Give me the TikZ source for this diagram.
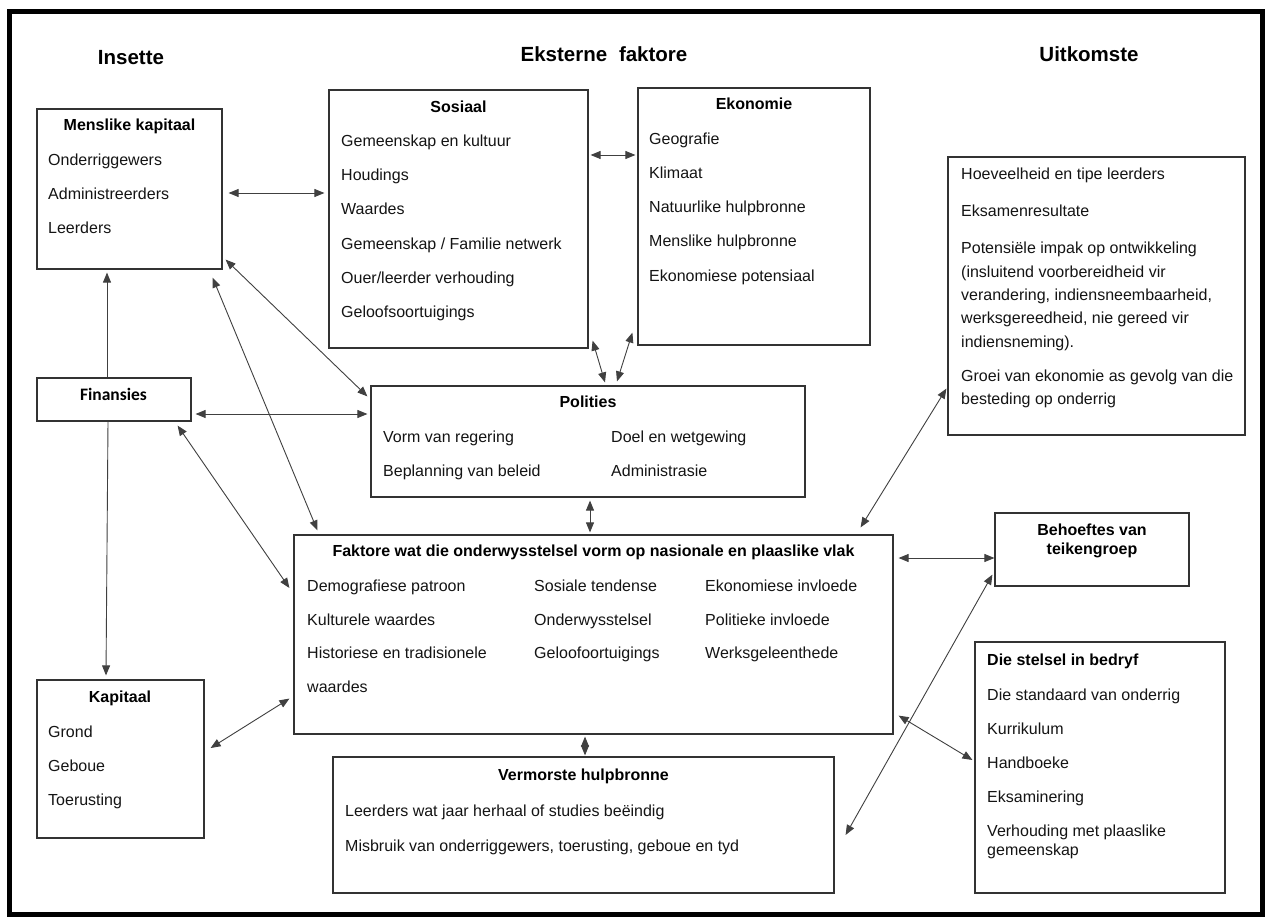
\documentclass[tikz,border=0pt]{standalone}
\usepackage{fontspec}
\setmainfont{Liberation Sans}
\newfontfamily\calibri{Carlito}
\usetikzlibrary{arrows.meta}

\begin{document}
\begin{tikzpicture}[x=1pt,y=-1pt,
  box/.style={draw=black!80, line width=1.2pt, inner sep=0pt},
  item/.style={anchor=base west, inner sep=0pt, font=\fontsize{16}{19}\selectfont, text=black!92},
  head/.style={anchor=base, inner sep=0pt, font=\fontsize{16}{19}\selectfont\bfseries},
  headl/.style={anchor=base west, inner sep=0pt, font=\fontsize{16}{19}\selectfont\bfseries},
  big/.style={anchor=base, inner sep=0pt, font=\fontsize{20.5}{24}\selectfont\bfseries},
  tip/.tip={Triangle[length=10pt,width=8pt]},
  link/.style={draw=black!75, line width=0.9pt, tip-tip},
  uplink/.style={draw=black!75, line width=0.9pt, -tip},
]
\useasboundingbox (0,0) rectangle (1265,917);
\fill[white] (0,0) rectangle (1265,917);
% outer frame
\draw[line width=5pt, black] (9.5,11.5) rectangle (1262,914);

% column headings
\node[big] (hin) at (131,65) {Insette};
\node[big] (hek) at (604,62) {Eksterne\hspace{0.3em} faktore};
\node[big] (huit) at (1089,62) {Uitkomste};

% boxes
\node[box, minimum width=185, minimum height=160] (mensl) at (129.5,189) {};
\node[box, minimum width=259, minimum height=258] (sos) at (458.5,219) {};
\node[box, minimum width=232, minimum height=257] (ekon) at (754,216.5) {};
\node[box, minimum width=297, minimum height=278] (uitk) at (1096.5,296) {};
\node[box, minimum width=154, minimum height=43] (fin) at (114,399.5) {};
\node[box, minimum width=434, minimum height=111] (pol) at (588,441.5) {};
\node[box, minimum width=599, minimum height=199] (fak) at (593.5,634.5) {};
\node[box, minimum width=194, minimum height=73] (beh) at (1092,549.5) {};
\node[box, minimum width=167, minimum height=158] (kap) at (120.5,759) {};
\node[box, minimum width=501, minimum height=136] (verm) at (583.5,825) {};
\node[box, minimum width=250, minimum height=251] (stel) at (1100,767.5) {};

% Menslike kapitaal
\node[head] (tmensl) at (129.5,131) {Menslike kapitaal};
\foreach \t [count=\i from 0] in {Onderriggewers, Administreerders, Leerders}
  \node[item] (mk\i) at (48,{166+34*\i}) {\t};

% Sosiaal
\node[head] (tsos) at (458.5,113) {Sosiaal};
\foreach \t [count=\i from 0] in {Gemeenskap en kultuur, Houdings, Waardes,
    Gemeenskap / Familie netwerk, Ouer/leerder verhouding, Geloofsoortuigings}
  \node[item] (so\i) at (341,{147+34*\i}) {\t};

% Ekonomie
\node[head] (tekon) at (754,110) {Ekonomie};
\foreach \t [count=\i from 0] in {Geografie, Klimaat, Natuurlike hulpbronne,
    Menslike hulpbronne, Ekonomiese potensiaal}
  \node[item] (ek\i) at (649,{145+34*\i}) {\t};

% Uitkomste
\node[item] (uk0) at (961,180) {Hoeveelheid en tipe leerders};
\node[item] (uk1) at (961,216.5) {Eksamenresultate};
\node[item] (up0) at (961,254) {Potensiële impak op ontwikkeling};
\node[item] (up1) at (961,277.3) {(insluitend voorbereidheid vir};
\node[item] (up2) at (961,300.6) {verandering, indiensneembaarheid,};
\node[item] (up3) at (961,323.9) {werksgereedheid, nie gereed vir};
\node[item] (up4) at (961,347.2) {indiensneming).};
\node[item] (ug0) at (961,381) {Groei van ekonomie as gevolg van die};
\node[item] (ug1) at (961,404.3) {besteding op onderrig};

% Finansies
\node[anchor=base, inner sep=0pt, font=\calibri\fontsize{17.5}{20}\selectfont\bfseries] (tfin) at (113.5,400) {Finansies};

% Polities
\node[head] (tpol) at (588,407) {Polities};
\node[item] (po0) at (383,442) {Vorm van regering};
\node[item] (po1) at (383,476.5) {Beplanning van beleid};
\node[item] (po2) at (611,442) {Doel en wetgewing};
\node[item] (po3) at (611,476.5) {Administrasie};

% Faktore
\node[head] (tfak) at (593.5,556.5) {Faktore wat die onderwysstelsel vorm op nasionale en plaaslike vlak};
\foreach \t [count=\i from 0] in {Demografiese patroon, Kulturele waardes,
    Historiese en tradisionele, waardes}
  \node[item] (fa\i) at (307,{591.5+33.6*\i}) {\t};
\foreach \t [count=\i from 0] in {Sosiale tendense, Onderwysstelsel, Geloofoortuigings}
  \node[item] (fb\i) at (534,{591.5+33.6*\i}) {\t};
\foreach \t [count=\i from 0] in {Ekonomiese invloede, Politieke invloede, Werksgeleenthede}
  \node[item] (fc\i) at (705,{591.5+33.6*\i}) {\t};

% Behoeftes van teikengroep
\node[head] (tbeh0) at (1092,535) {Behoeftes van};
\node[head] (tbeh1) at (1092,554) {teikengroep};

% Kapitaal
\node[head] (tkap) at (120,702.5) {Kapitaal};
\foreach \t [count=\i from 0] in {Grond, Geboue, Toerusting}
  \node[item] (ka\i) at (48,{737.5+34*\i}) {\t};

% Vermorste hulpbronne
\node[head] (tverm) at (583.5,780) {Vermorste hulpbronne};
\node[item] (ve0) at (345,816.5) {Leerders wat jaar herhaal of studies beëindig};
\node[item] (ve1) at (345,851.5) {Misbruik van onderriggewers, toerusting, geboue en tyd};

% Die stelsel in bedryf
\node[headl] (tstel) at (987,665) {Die stelsel in bedryf};
\foreach \t [count=\i from 0] in {Die standaard van onderrig, Kurrikulum, Handboeke, Eksaminering,
    Verhouding met plaaslike}
  \node[item] (st\i) at (987,{700.5+34*\i}) {\t};
\node[item] (st5) at (987,855) {gemeenskap};

% connectors
\draw[link] ([shift={(6,4)}]mensl.east) -- ([shift={(-4,-26)}]sos.west);
\draw[link] ([shift={(2,-64)}]sos.east) -- ([shift={(-2,-61.5)}]ekon.west);
\draw[link] ([shift={(3,-10)}]mensl.south east) -- ([shift={(-3,11)}]pol.north west);
\draw[link] ([shift={(-10,8)}]mensl.south east) -- ([shift={(24,-4)}]fak.north west);
\draw[link] ([shift={(4,14.5)}]fin.east) -- ([shift={(-3,-27.5)}]pol.west);
\draw[link] ([shift={(-14,4)}]fin.south east) -- ([shift={(-4,-46.5)}]fak.west);
\draw[uplink] ([shift={(-7,0)}]fin.north) -- ([shift={(-22.5,3)}]mensl.south);
\draw[uplink] ([shift={(-6,0)}]fin.south) -- ([shift={(-14.5,-4)}]kap.north);
\draw[link] ([shift={(4,-8)}]sos.south east) -- ([shift={(17,-3)}]pol.north);
\draw[link] ([shift={(-5,-13)}]ekon.south west) -- ([shift={(29,-4)}]pol.north);
\draw[link] ([shift={(2,3)}]pol.south) -- ([shift={(-3.5,-2)}]fak.north);
\draw[link] ([shift={(-8.5,2)}]fak.south) -- ([shift={(1.5,-1)}]verm.north);
\draw[link] ([shift={(5,-76.5)}]fak.east) -- ([shift={(0,8.5)}]beh.west);
\draw[link] ([shift={(-33,-7)}]fak.north east) -- ([shift={(-1,-47)}]uitk.south west);
\draw[link] ([shift={(6,-11)}]kap.east) -- ([shift={(-4,-36)}]fak.south west);
\draw[link] ([shift={(5,-19)}]fak.south east) -- ([shift={(-2,-7.5)}]stel.west);
\draw[link] ([shift={(-2,-12)}]beh.south west) -- ([shift={(11,10)}]verm.east);
\end{tikzpicture}
\end{document}
